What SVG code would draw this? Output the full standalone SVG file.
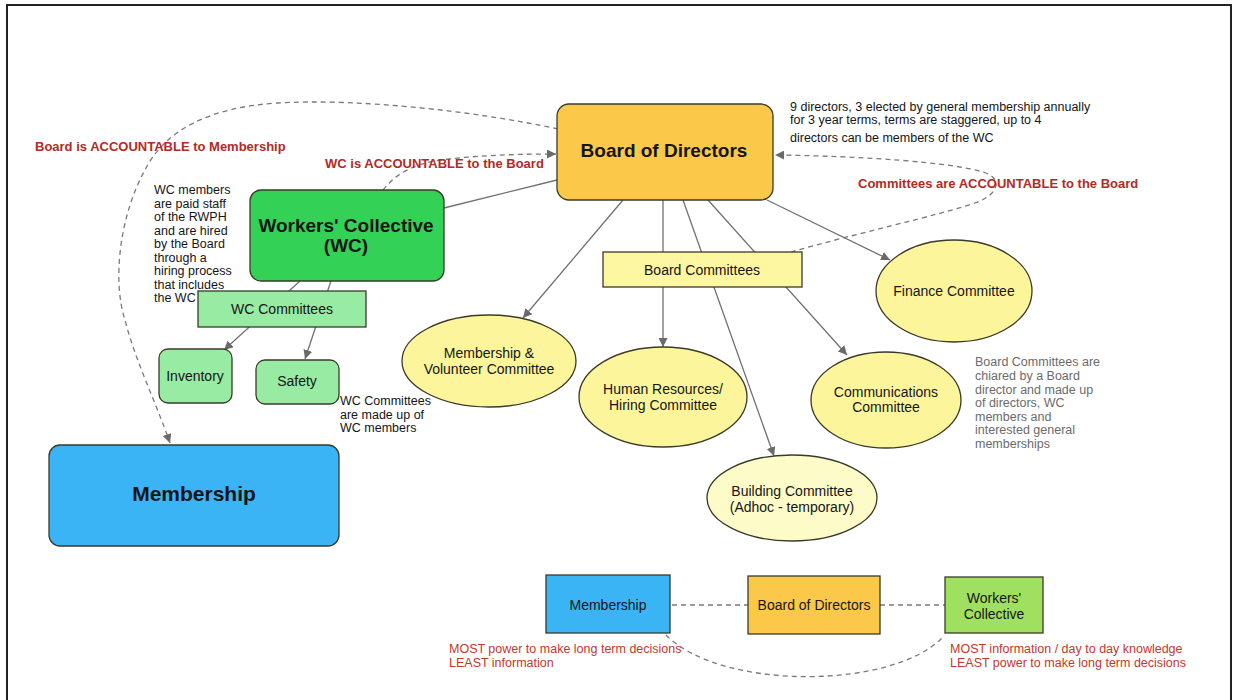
<svg xmlns="http://www.w3.org/2000/svg" width="1233" height="700" viewBox="0 0 1233 700">
<defs>
<marker id="ah" viewBox="0 0 10 10" refX="10" refY="5" markerWidth="9" markerHeight="9" markerUnits="userSpaceOnUse" orient="auto">
<path d="M0,0 L10,5 L0,10 z" fill="#6a6a6a"/>
</marker>
<style>
text{font-family:"Liberation Sans",Arial,sans-serif;fill:#151515}
.node{stroke:#3a3a2a;stroke-width:1.3}
.ln{stroke:#707070;stroke-width:1.3;fill:none}
.dash{stroke:#7a7a7a;stroke-width:1.3;fill:none;stroke-dasharray:5 4}
.t14{font-size:14px;text-anchor:middle}
.big{font-weight:bold;text-anchor:middle}
.red{fill:#b22b25;font-weight:bold;font-size:13px}
.red2{fill:#c0392b;font-size:12.5px}
.note{font-size:12.5px}
.gray{font-size:12.5px;fill:#6b6b6b}
.ell{fill:#fdf59c}
.lg{fill:#98eba3}
</style>
</defs>
<rect x="7" y="5" width="1224" height="720" fill="#ffffff" stroke="#222" stroke-width="2"/>

<g id="connectors">
<path class="dash" d="M558,129 C480,112 360,98 278,103 C210,107 165,130 145,170 C120,215 112,280 125,320 C135,360 155,400 170,443" marker-end="url(#ah)"/>
<path class="dash" d="M383,190 C395,175 410,165 440,160 C480,155 520,154 556,154" marker-end="url(#ah)"/>
<path class="dash" d="M791,252 C850,235 940,215 975,203 C1000,194 1003,178 983,172 C950,162 860,156 775,155" marker-end="url(#ah)"/>
<line class="ln" x1="444" y1="208" x2="557" y2="180"/>
<line class="ln" x1="300" y1="281" x2="224" y2="350" marker-end="url(#ah)"/>
<line class="ln" x1="331" y1="281" x2="305" y2="359" marker-end="url(#ah)"/>
<line class="ln" x1="623" y1="200" x2="523" y2="318" marker-end="url(#ah)"/>
<line class="ln" x1="663" y1="200" x2="663" y2="347" marker-end="url(#ah)"/>
<line class="ln" x1="683" y1="200" x2="774" y2="456" marker-end="url(#ah)"/>
<line class="ln" x1="708" y1="200" x2="847" y2="355" marker-end="url(#ah)"/>
<line class="ln" x1="767" y1="200" x2="890" y2="260" marker-end="url(#ah)"/>
<line class="dash" x1="672" y1="605" x2="748" y2="605"/>
<line class="dash" x1="880" y1="605" x2="945" y2="605"/>
<path class="dash" d="M666,635 C720,690 890,690 942,638"/>
</g>

<g id="board">
<rect class="node" x="557" y="104" width="216" height="96" rx="12" fill="#fcc84a"/>
<text class="big" x="664" y="157" font-size="19">Board of Directors</text>
</g>
<g id="board-note">
<text class="note" x="790" y="111" font-size="12">9 directors, 3 elected by general membership annually</text>
<text class="note" x="790" y="124" font-size="12">for 3 year terms, terms are staggered, up to 4</text>
<text class="note" x="790" y="142" font-size="12">directors can be members of the WC</text>
</g>
<g id="wc">
<rect class="node" x="250" y="190" width="194" height="91" rx="11" fill="#33d155"/>
<text class="big" x="346" y="232" font-size="19">Workers' Collective</text>
<text class="big" x="346" y="252" font-size="19">(WC)</text>
</g>
<g id="wc-note">
<text class="note" x="154" y="194">WC members</text>
<text class="note" x="154" y="207.5">are paid staff</text>
<text class="note" x="154" y="221">of the RWPH</text>
<text class="note" x="154" y="234.5">and are hired</text>
<text class="note" x="154" y="248">by the Board</text>
<text class="note" x="154" y="261.5">through a</text>
<text class="note" x="154" y="275">hiring process</text>
<text class="note" x="154" y="288.5">that includes</text>
<text class="note" x="154" y="302">the WC</text>
</g>
<g id="wc-committees">
<rect class="node lg" x="198" y="291" width="168" height="36"/>
<text class="t14" x="282" y="314">WC Committees</text>
</g>
<g id="inventory">
<rect class="node lg" x="159" y="349" width="73" height="54" rx="9"/>
<text class="t14" x="195" y="381">Inventory</text>
</g>
<g id="safety">
<rect class="node lg" x="256" y="360" width="83" height="44" rx="9"/>
<text class="t14" x="297" y="386">Safety</text>
</g>
<g id="wc-comm-note">
<text class="note" x="340" y="405">WC Committees</text>
<text class="note" x="340" y="419">are made up of</text>
<text class="note" x="340" y="432">WC members</text>
</g>
<g id="membership">
<rect class="node" x="49" y="445" width="290" height="101" rx="11" fill="#3bb4f5"/>
<text class="big" x="194" y="501" font-size="21">Membership</text>
</g>
<g id="board-committees">
<rect class="node" x="603" y="252" width="199" height="35" fill="#fdf7a1"/>
<text class="t14" x="702" y="275">Board Committees</text>
</g>
<g id="finance">
<ellipse class="node ell" cx="954" cy="291" rx="78" ry="51"/>
<text class="t14" x="954" y="296">Finance Committee</text>
</g>
<g id="membership-volunteer">
<ellipse class="node ell" cx="489" cy="361" rx="87" ry="46"/>
<text class="t14" x="489" y="358">Membership &amp;</text>
<text class="t14" x="489" y="374">Volunteer Committee</text>
</g>
<g id="hr">
<ellipse class="node ell" cx="663" cy="397" rx="84" ry="50"/>
<text class="t14" x="663" y="394">Human Resources/</text>
<text class="t14" x="663" y="410">Hiring Committee</text>
</g>
<g id="communications">
<ellipse class="node ell" cx="886" cy="400" rx="75" ry="48"/>
<text class="t14" x="886" y="397">Communications</text>
<text class="t14" x="886" y="412">Committee</text>
</g>
<g id="building">
<ellipse class="node" cx="792" cy="498" rx="85" ry="43" fill="#fdfbc8"/>
<text class="t14" x="792" y="496">Building Committee</text>
<text class="t14" x="792" y="512">(Adhoc - temporary)</text>
</g>
<g id="bc-note">
<text class="gray" x="975" y="366">Board Committees are</text>
<text class="gray" x="975" y="380">chiared by a Board</text>
<text class="gray" x="975" y="393.5">director and made up</text>
<text class="gray" x="975" y="407">of directors, WC</text>
<text class="gray" x="975" y="420.5">members and</text>
<text class="gray" x="975" y="434">interested general</text>
<text class="gray" x="975" y="447.5">memberships</text>
</g>
<g id="labels">
<text class="red" x="35" y="151">Board is ACCOUNTABLE to Membership</text>
<text class="red" x="325" y="168">WC is ACCOUNTABLE to the Board</text>
<text class="red" x="858" y="188">Committees are ACCOUNTABLE to the Board</text>
</g>
<g id="legend-membership">
<rect class="node" x="546" y="575" width="124" height="58" fill="#3bb4f5"/>
<text class="t14" x="608" y="610">Membership</text>
</g>
<g id="legend-board">
<rect class="node" x="748" y="576" width="132" height="58" fill="#fcc84a"/>
<text class="t14" x="814" y="610">Board of Directors</text>
</g>
<g id="legend-wc">
<rect class="node" x="945" y="577" width="98" height="56" fill="#a0e060"/>
<text class="t14" x="994" y="603">Workers'</text>
<text class="t14" x="994" y="619">Collective</text>
</g>
<g id="legend-notes">
<text class="red2" x="449" y="653">MOST power to make long term decisions</text>
<text class="red2" x="449" y="667">LEAST information</text>
<text class="red2" x="950" y="653">MOST information / day to day knowledge</text>
<text class="red2" x="950" y="667">LEAST power to make long term decisions</text>
</g>
</svg>
